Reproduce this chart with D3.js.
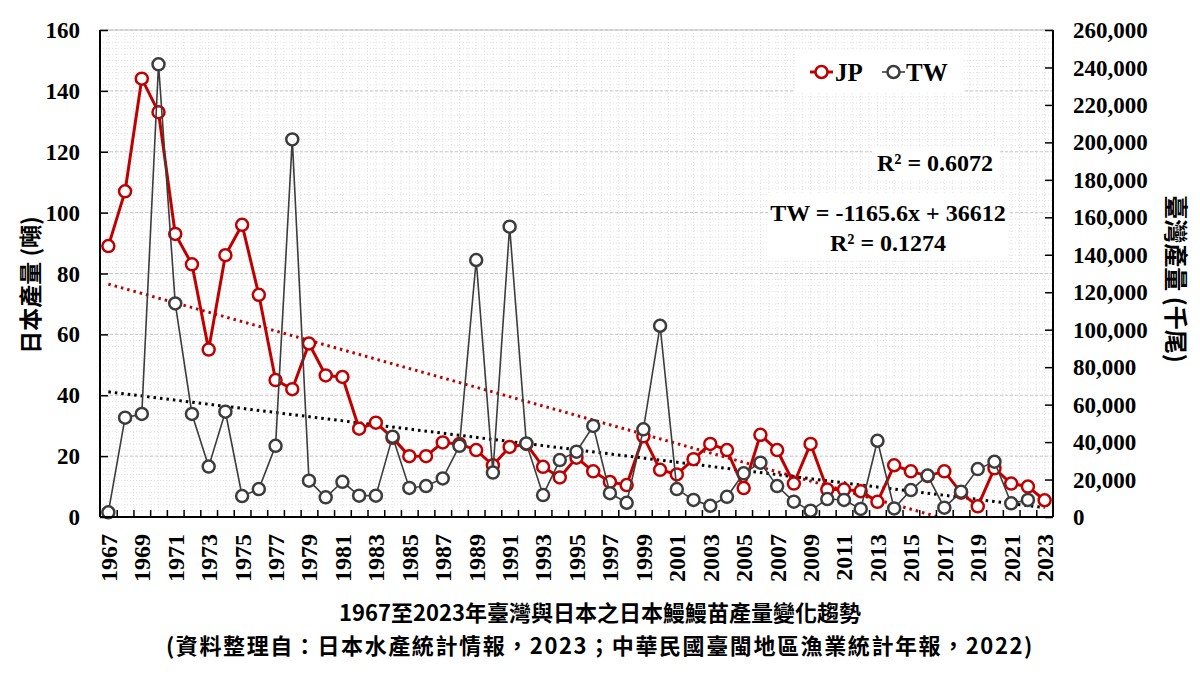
<!DOCTYPE html>
<html>
<head>
<meta charset="utf-8">
<script src="https://cdn.jsdelivr.net/npm/d3@7"></script>
<style>
  html, body { margin: 0; padding: 0; background: #fff; }
  svg { display: block; }
  .num { font-family: "Liberation Serif", "Times New Roman", serif; font-weight: bold; }
  .cjk { font-family: "Noto Sans CJK TC", "Noto Sans", sans-serif; font-weight: bold; }
</style>
</head>
<body>
<div id="chart"></div>
<script>
// data
const years = d3.range(1967, 2024);
const jpTons = [89, 107, 144, 133, 93, 83, 55, 86, 96, 73,
    45, 42, 57, 46.5, 46, 29, 31, 26, 20, 20,
    24.5, 24, 22, 17, 23, 24, 16.5, 13, 19.5, 15,
    11.5, 10.5, 26.5, 15.5, 14, 19, 24, 22, 9.5, 27,
    22, 11, 24, 9, 9, 8.5, 5, 17, 15, 13.5,
    15, 8, 3.5, 16, 11, 10, 5.5];
const twThousand = [2500, 53000, 55000, 241700, 114000, 55000, 26900, 56200, 11200, 14900,
    38000, 201600, 19400, 10500, 18800, 11400, 11400, 42900, 15500, 16500,
    20600, 38000, 137200, 23700, 155000, 39300, 11700, 30400, 34900, 48600,
    12700, 7600, 46800, 102100, 14900, 9100, 6000, 10800, 23300, 29000,
    16500, 8200, 3400, 9600, 9100, 4300, 40700, 4600, 14400, 22100,
    5000, 13500, 25600, 29500, 7300, 9100, null];
const leftTicks = d3.range(0, 161, 20);
const rightTicks = d3.range(0, 260001, 20000);
const yearLabels = years.filter((d, i) => i % 2 === 0);
const seriesNames = ["JP", "TW"];
const eqJP = ["R² = 0.6072"];
const eqTW = ["TW = -1165.6x + 36612", "R² = 0.1274"];
const titleLines = ["1967至2023年臺灣與日本之日本鰻鰻苗產量變化趨勢",
    "(資料整理自：日本水產統計情報，2023；中華民國臺閩地區漁業統計年報，2022)"];

const W = 1200, H = 675;
const M = { L: 100, R: 1053, T: 30, B: 517 };
const RED = "#c00000", DARK = "#3c3c3c";

const svg = d3.select("#chart").append("svg").attr("width", W).attr("height", H);

const x = d3.scaleBand().domain(years).range([M.L, M.R]).padding(0);
const yL = d3.scaleLinear().domain([0, 160]).range([M.B, M.T]);
const yR = d3.scaleLinear().domain([0, 260000]).range([M.B, M.T]);
const cx = d => x(d) + x.bandwidth() / 2;

svg.append("defs").append("clipPath").attr("id", "plotClip")
    .append("rect").attr("x", M.L).attr("y", M.T).attr("width", M.R - M.L).attr("height", M.B - M.T);

// fine grid
const grid = svg.append("g");
grid.selectAll(".hmin").data(d3.range(0, 160, 2)).join("line")
    .attr("x1", M.L).attr("x2", M.R).attr("y1", d => yL(d)).attr("y2", d => yL(d))
    .attr("stroke", "#e2e2e2").attr("stroke-width", 1).attr("stroke-dasharray", "1,2");
grid.selectAll(".vmin").data(d3.range(0, years.length * 2 + 1)).join("line")
    .attr("x1", d => M.L + d * x.bandwidth() / 2).attr("x2", d => M.L + d * x.bandwidth() / 2)
    .attr("y1", M.T).attr("y2", M.B)
    .attr("stroke", "#e2e2e2").attr("stroke-width", 1).attr("stroke-dasharray", "1,2");
grid.selectAll(".hmaj").data(leftTicks.slice(1)).join("line")
    .attr("x1", M.L).attr("x2", M.R).attr("y1", d => yL(d)).attr("y2", d => yL(d))
    .attr("stroke", "#c8c8c8").attr("stroke-width", 1).attr("stroke-dasharray", "3,2");

// regression (x = 1..n)
function linreg(vals) {
    const pts = vals.map((v, i) => [i + 1, v]).filter(p => p[1] != null);
    const mx = d3.mean(pts, p => p[0]), my = d3.mean(pts, p => p[1]);
    const b = d3.sum(pts, p => (p[0] - mx) * (p[1] - my)) / d3.sum(pts, p => (p[0] - mx) ** 2);
    return { b, a: my - b * mx };
}
const rJP = linreg(jpTons), rTW = linreg(twThousand);
const trend = svg.append("g").attr("clip-path", "url(#plotClip)");
trend.append("line")
    .attr("x1", cx(years[0])).attr("x2", cx(years[years.length - 1]))
    .attr("y1", yL(rJP.a + rJP.b)).attr("y2", yL(rJP.a + rJP.b * years.length))
    .attr("stroke", RED).attr("stroke-width", 3).attr("stroke-dasharray", "2.5,4");
trend.append("line")
    .attr("x1", cx(years[0])).attr("x2", cx(years[years.length - 1]))
    .attr("y1", yR(rTW.a + rTW.b)).attr("y2", yR(rTW.a + rTW.b * years.length))
    .attr("stroke", "#000").attr("stroke-width", 3).attr("stroke-dasharray", "2.5,4");

// series
const jpPts = years.map((d, i) => ({ year: d, v: jpTons[i] }));
const twPts = years.map((d, i) => ({ year: d, v: twThousand[i] })).filter(d => d.v != null);

svg.append("path").datum(jpPts)
    .attr("d", d3.line().x(d => cx(d.year)).y(d => yL(d.v)))
    .attr("fill", "none").attr("stroke", RED).attr("stroke-width", 3).attr("stroke-linejoin", "round");
svg.append("g").selectAll("circle").data(jpPts).join("circle")
    .attr("cx", d => cx(d.year)).attr("cy", d => yL(d.v)).attr("r", 6)
    .attr("fill", "#fff").attr("stroke", RED).attr("stroke-width", 2.5);

svg.append("path").datum(twPts)
    .attr("d", d3.line().x(d => cx(d.year)).y(d => yR(d.v)))
    .attr("fill", "none").attr("stroke", DARK).attr("stroke-width", 1.6);
svg.append("g").selectAll("circle").data(twPts).join("circle")
    .attr("cx", d => cx(d.year)).attr("cy", d => yR(d.v)).attr("r", 6)
    .attr("fill", "#fff").attr("stroke", DARK).attr("stroke-width", 2.5);

// frame and axes
svg.append("line").attr("x1", M.L).attr("x2", M.R).attr("y1", M.T).attr("y2", M.T)
    .attr("stroke", "#bdbdbd").attr("stroke-width", 1);
const axL = svg.append("g").attr("transform", `translate(${M.L},0)`)
    .call(d3.axisRight(yL).tickValues(leftTicks).tickSize(8).tickFormat(""));
const axR = svg.append("g").attr("transform", `translate(${M.R},0)`)
    .call(d3.axisLeft(yR).tickValues(rightTicks).tickSize(8).tickFormat(""));
const axB = svg.append("g").attr("transform", `translate(0,${M.B})`)
    .call(d3.axisTop(d3.scaleLinear().domain([0, years.length]).range([M.L, M.R]))
        .tickValues(d3.range(1, years.length)).tickSize(7).tickFormat(""));
[axL, axR, axB].forEach(a => {
    a.select(".domain").attr("stroke", "#000").attr("stroke-width", 2);
    a.selectAll(".tick line").attr("stroke", "#000").attr("stroke-width", 1.5);
});
axL.select(".domain").attr("d", `M0,${M.T}V${M.B}`);
axR.select(".domain").attr("d", `M0,${M.T}V${M.B}`);
axB.select(".domain").attr("d", `M${M.L},0H${M.R}`);

// tick labels
svg.append("g").selectAll("text").data(leftTicks).join("text").attr("class", "num")
    .attr("x", 80).attr("y", d => yL(d)).attr("dy", "0.35em").attr("text-anchor", "end")
    .attr("font-size", 23).text(d => d);
svg.append("g").selectAll("text").data(rightTicks).join("text").attr("class", "num")
    .attr("x", 1073).attr("y", d => yR(d)).attr("dy", "0.35em").attr("text-anchor", "start")
    .attr("font-size", 23).text(d => d3.format(",")(d));
svg.append("g").selectAll("text").data(yearLabels).join("text").attr("class", "num")
    .attr("transform", d => `translate(${cx(d)},534) rotate(-90)`)
    .attr("dy", "0.35em").attr("text-anchor", "end").attr("font-size", 24).text(d => d);

// axis titles
svg.append("text").attr("class", "cjk").attr("font-size", 23)
    .attr("transform", "translate(31,285) rotate(-90)").attr("dy", "0.35em")
    .attr("text-anchor", "middle").text("日本產量 (噸)");
svg.append("text").attr("class", "cjk").attr("font-size", 24)
    .attr("transform", "translate(1175,279) rotate(90)").attr("dy", "0.35em")
    .attr("text-anchor", "middle").text("臺灣產量 (千尾)");

// legend
const lg = svg.append("g");
lg.append("rect").attr("x", 795).attr("y", 50).attr("width", 168).attr("height", 42).attr("fill", "#fff");
const legendItems = [
    { name: seriesNames[0], color: RED, x0: 810, tx: 835 },
    { name: seriesNames[1], color: DARK, x0: 882, tx: 906 }
];
legendItems.forEach(it => {
    lg.append("line").attr("x1", it.x0).attr("x2", it.x0 + 23).attr("y1", 72).attr("y2", 72)
        .attr("stroke", it.color).attr("stroke-width", it.color === RED ? 3 : 1.6);
    lg.append("circle").attr("cx", it.x0 + 11.5).attr("cy", 72).attr("r", 6)
        .attr("fill", "#fff").attr("stroke", it.color).attr("stroke-width", 2.5);
    lg.append("text").attr("class", "num").attr("x", it.tx).attr("y", 72).attr("dy", "0.35em")
        .attr("font-size", 25).attr("fill", "#000").text(it.name);
});

// equations
svg.append("rect").attr("x", 872).attr("y", 147).attr("width", 128).attr("height", 32).attr("fill", "#fff");
svg.append("text").attr("class", "num").attr("x", 935).attr("y", 171).attr("text-anchor", "middle")
    .attr("font-size", 24).text(eqJP[0]);
svg.append("rect").attr("x", 768).attr("y", 193).attr("width", 240).attr("height", 66).attr("fill", "#fff");
svg.selectAll(".eqtw").data(eqTW).join("text").attr("class", "num")
    .attr("x", 888).attr("y", (d, i) => 221 + i * 30).attr("text-anchor", "middle")
    .attr("font-size", 24).text(d => d);

// title
svg.selectAll(".ttl").data(titleLines).join("text").attr("class", "cjk")
    .attr("x", 600).attr("y", (d, i) => 621 + i * 33).attr("text-anchor", "middle")
    .attr("letter-spacing", (d, i) => i === 1 ? 1.6 : 0)
    .attr("font-size", 22).text(d => d);
</script>
</body>
</html>
